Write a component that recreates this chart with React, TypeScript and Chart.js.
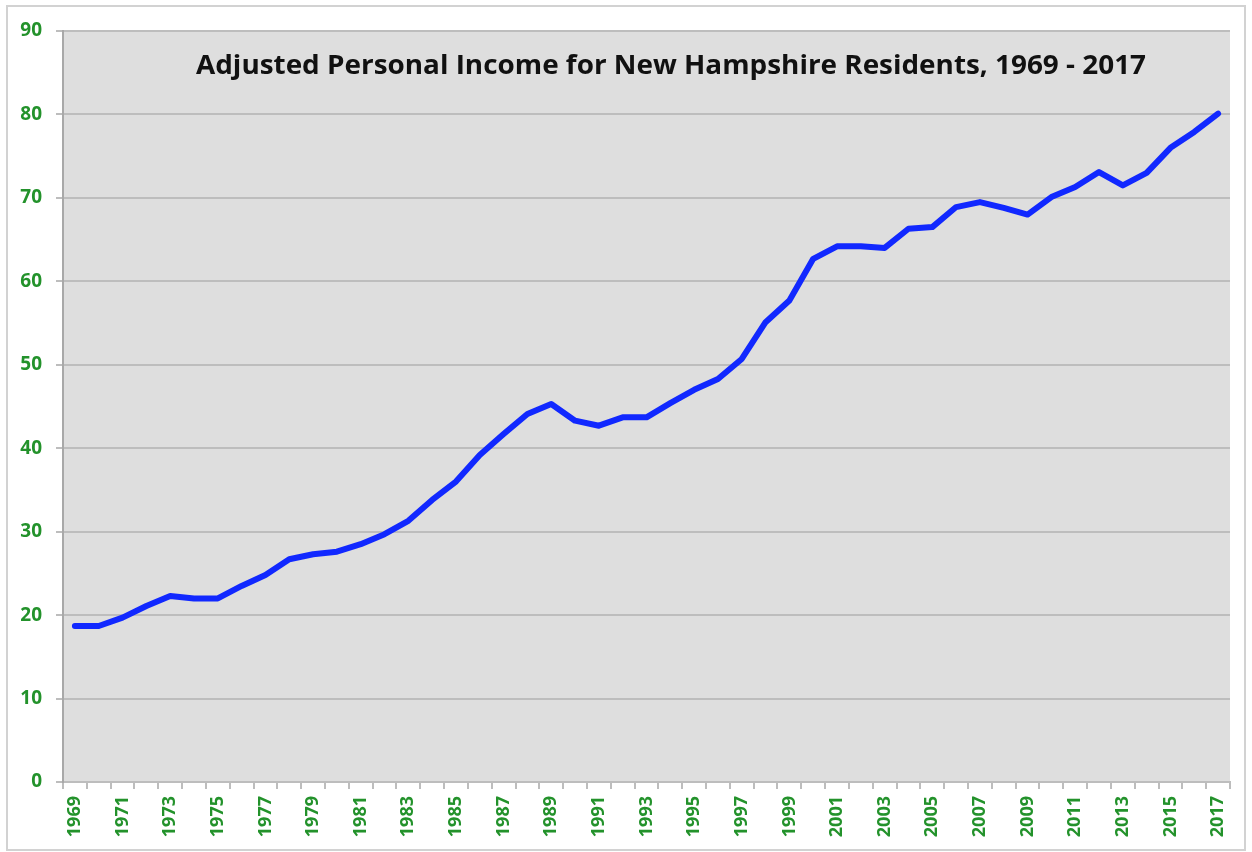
import React, { useEffect, useRef } from "react";
import { Chart, registerables } from "chart.js";

Chart.register(...registerables);

const years: string[] = [
  "1969","1970","1971","1972","1973","1974","1975","1976","1977","1978",
  "1979","1980","1981","1982","1983","1984","1985","1986","1987","1988",
  "1989","1990","1991","1992","1993","1994","1995","1996","1997","1998",
  "1999","2000","2001","2002","2003","2004","2005","2006","2007","2008",
  "2009","2010","2011","2012","2013","2014","2015","2016","2017",
];

const income: number[] = [
  18.7, 18.7, 19.7, 21.1, 22.3, 22.0, 22.0, 23.5, 24.8, 26.7,
  27.3, 27.6, 28.5, 29.7, 31.3, 33.8, 36.0, 39.2, 41.7, 44.1,
  45.3, 43.3, 42.7, 43.7, 43.7, 45.4, 47.0, 48.3, 50.7, 55.1,
  57.7, 62.7, 64.2, 64.2, 64.0, 66.3, 66.5, 68.9, 69.5, 68.8,
  68.0, 70.1, 71.3, 73.1, 71.5, 73.0, 76.0, 77.9, 80.1,
];

const titleText = "Adjusted Personal Income for New Hampshire Residents, 1969 - 2017";
const yMin = 0;
const yMax = 90;
const yStep = 10;

const GREEN = "#23922b";
const FONT = "'Open Sans', 'Liberation Sans', sans-serif";

const backgroundPlugin = {
  id: "bgPlugin",
  beforeDraw(chart: any) {
    const { ctx, chartArea, width, height } = chart;
    ctx.save();
    ctx.fillStyle = "#ffffff";
    ctx.fillRect(0, 0, width, height);
    ctx.strokeStyle = "#d2d2d2";
    ctx.lineWidth = 2;
    ctx.strokeRect(7, 6, width - 14, height - 8);
    ctx.fillStyle = "#dedede";
    ctx.fillRect(chartArea.left, chartArea.top, chartArea.right - chartArea.left, chartArea.bottom - chartArea.top);
    ctx.restore();
  },
};

const titlePlugin = {
  id: "innerTitle",
  afterDraw(chart: any) {
    const { ctx } = chart;
    ctx.save();
    ctx.font = `bold 27px ${FONT}`;
    ctx.fillStyle = "#111111";
    ctx.textBaseline = "alphabetic";
    ctx.textAlign = "left";
    const targetW = 950;
    const w = ctx.measureText(titleText).width;
    const sx = targetW / w;
    ctx.translate(196, 74);
    ctx.scale(sx, 1);
    ctx.fillText(titleText, 0, 0);
    ctx.restore();
  },
};

export default function App() {
  const ref = useRef<HTMLCanvasElement | null>(null);

  useEffect(() => {
    if (!ref.current) return;
    const chart = new Chart(ref.current, {
      type: "line",
      data: {
        labels: years,
        datasets: [
          {
            data: income,
            borderColor: "#1128ff",
            borderWidth: 6,
            pointRadius: 0,
            tension: 0,
            fill: false,
            borderCapStyle: "round",
            borderJoinStyle: "round",
          },
        ],
      },
      options: {
        responsive: false,
        animation: false,
        layout: { padding: { left: 0, top: 31, right: 22, bottom: 0 } },
        plugins: {
          legend: { display: false },
          title: { display: false },
          tooltip: { enabled: false },
        },
        scales: {
          x: {
            type: "category",
            offset: true,
            afterFit(scale: any) {
              scale.height = 70;
            },
            grid: {
              offset: true,
              drawOnChartArea: false,
              drawTicks: true,
              tickLength: 7,
              color: "#bdbdbd",
              lineWidth: 2,
            },
            border: { display: true, color: "#bdbdbd", width: 2 },
            ticks: {
              autoSkip: false,
              minRotation: 90,
              maxRotation: 90,
              padding: 7,
              color: GREEN,
              font: { family: FONT, size: 18, weight: "bold" },
              callback: (_v: any, i: number) => (i % 2 === 0 ? years[i] : ""),
            },
          },
          y: {
            min: yMin,
            max: yMax,
            afterFit(scale: any) {
              scale.width = 63;
            },
            grid: {
              color: "#bdbdbd",
              lineWidth: 2,
              drawTicks: true,
              tickLength: 7,
            },
            border: { display: true, color: "#a8a8a8", width: 2 },
            ticks: {
              stepSize: yStep,
              padding: 14,
              color: GREEN,
              font: { family: FONT, size: 19, weight: "bold" },
            },
          },
        },
      },
      plugins: [backgroundPlugin, titlePlugin],
    });
    return () => chart.destroy();
  }, []);

  return (
    <div style={{ position: "absolute", left: 0, top: 0, width: 1252, height: 852 }}>
      <canvas ref={ref} width={1252} height={852} style={{ display: "block" }} />
    </div>
  );
}
